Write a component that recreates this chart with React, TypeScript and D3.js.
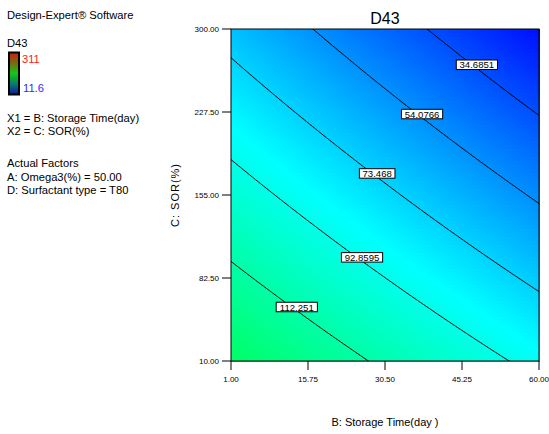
import React from "react";
import * as d3 from "d3";

// ---- data ----
const xDomain = [1, 60]; // B: Storage Time(day)
const yDomain = [10, 300]; // C: SOR(%)
const xTicks = [1, 15.75, 30.5, 45.25, 60];
const yTicks = [10, 82.5, 155, 227.5, 300];
const colorRange = [11.6, 311];
// fitted response surface D43 = b0 + bB*B + bC*C + bBC*B*C (estimated from contour positions)
const surfaceCoefficients = [134.1, -0.714, -0.2174, -0.000576];
const contourLevels = [34.6851, 54.0766, 73.468, 92.8595, 112.251];
const labelB = [48.1, 37.6, 29.0, 26.1, 13.6];
const legendLines = ["X1 = B: Storage Time(day)", "X2 = C: SOR(%)"];
const factorLines = ["Actual Factors", "A: Omega3(%) = 50.00", "D: Surfactant type = T80"];
const legendBarColors = ["#10189c", "#0a7a6a", "#10c818", "#7a6a10", "#c82010"];

const W = 549;
const H = 434;
const plot = { left: 231, right: 539, top: 29, bottom: 361 };
const FONT = "Arial, 'Liberation Sans', sans-serif";

const d43 = (B: number, C: number) => {
  const [b0, bB, bC, bBC] = surfaceCoefficients;
  return b0 + bB * B + bC * C + bBC * B * C;
};
const solveC = (B: number, level: number) => {
  const [b0, bB, bC, bBC] = surfaceCoefficients;
  return (level - b0 - bB * B) / (bC + bBC * B);
};

const colorScale = d3
  .scaleLinear<string>()
  .domain([0, 0.25, 0.5, 0.75, 1].map((t) => colorRange[0] + t * (colorRange[1] - colorRange[0])))
  .range(["#0000ff", "#00ffff", "#00ff00", "#ffff00", "#ff0000"])
  .clamp(true);

export default function App() {
  const x = d3.scaleLinear().domain(xDomain).range([plot.left, plot.right]);
  const y = d3.scaleLinear().domain(yDomain).range([plot.bottom, plot.top]);

  const cell = 4;
  const nx = Math.ceil((plot.right - plot.left) / cell);
  const ny = Math.ceil((plot.bottom - plot.top) / cell);
  const cells: JSX.Element[] = [];
  for (let i = 0; i < nx; i++) {
    for (let j = 0; j < ny; j++) {
      const px = plot.left + i * cell;
      const py = plot.top + j * cell;
      const B = x.invert(px + cell / 2);
      const C = y.invert(py + cell / 2);
      cells.push(
        <rect
          key={`${i}-${j}`}
          x={px}
          y={py}
          width={Math.min(cell, plot.right - px) + 0.5}
          height={Math.min(cell, plot.bottom - py) + 0.5}
          fill={colorScale(d43(B, C))}
        />
      );
    }
  }

  const line = d3
    .line<[number, number]>()
    .x((d) => x(d[0]))
    .y((d) => y(d[1]));
  const Bs = d3.range(0, 201).map((k) => xDomain[0] + (k / 200) * (xDomain[1] - xDomain[0]));

  return (
    <svg
      width={W}
      height={H}
      style={{ position: "absolute", left: 0, top: 0, background: "#fff" }}
      fontFamily={FONT}
    >
      <defs>
        <clipPath id="plotClip">
          <rect x={plot.left} y={plot.top} width={plot.right - plot.left} height={plot.bottom - plot.top} />
        </clipPath>
        <linearGradient id="legendGrad" x1="0" y1="1" x2="0" y2="0">
          {legendBarColors.map((c, k) => (
            <stop key={k} offset={k / (legendBarColors.length - 1)} stopColor={c} />
          ))}
        </linearGradient>
      </defs>

      {/* left legend */}
      <text x={7} y={18.5} fontSize={11.2}>Design-Expert® Software</text>
      <text x={7} y={47} fontSize={11.2}>D43</text>
      <rect x={9} y={52.5} width={10} height={42} fill="url(#legendGrad)" stroke="#000" strokeWidth={2} />
      <text x={22} y={63} fontSize={11.2} fill="#ff2020">{colorRange[1]}</text>
      <text x={23} y={92} fontSize={11.2} fill="#2a2aff">{colorRange[0]}</text>
      {legendLines.map((t, k) => (
        <text key={t} x={7} y={122 + k * 13} fontSize={11.2}>{t}</text>
      ))}
      {factorLines.map((t, k) => (
        <text key={t} x={7} y={167 + k * 13.5} fontSize={11.2}>{t}</text>
      ))}

      {/* title */}
      <text x={(plot.left + plot.right) / 2} y={24} fontSize={16} textAnchor="middle">D43</text>

      {/* surface */}
      <g shapeRendering="crispEdges">{cells}</g>

      {/* contours */}
      <g clipPath="url(#plotClip)">
        {contourLevels.map((lv) => {
          const pts = Bs.map((B) => [B, solveC(B, lv)] as [number, number]);
          return <path key={lv} d={line(pts) || ""} fill="none" stroke="#000" strokeWidth={1} />;
        })}
      </g>
      {contourLevels.map((lv, k) => {
        const B = labelB[k];
        const cx = x(B);
        const cy = y(solveC(B, lv)) - 4;
        const label = String(lv);
        const w = label.length * 5.6 + 2;
        return (
          <g key={`l${lv}`}>
            <rect x={cx - w / 2} y={cy - 4.5} width={w} height={9.5} fill="#fff" stroke="#000" strokeWidth={1} />
            <text x={cx} y={cy + 3.8} fontSize={9.6} textAnchor="middle">{label}</text>
          </g>
        );
      })}

      {/* frame */}
      <rect
        x={plot.left}
        y={plot.top}
        width={plot.right - plot.left}
        height={plot.bottom - plot.top}
        fill="none"
        stroke="#000"
        strokeWidth={1}
      />

      {/* x axis */}
      {xTicks.map((t) => (
        <g key={`x${t}`}>
          <line x1={x(t)} x2={x(t)} y1={plot.bottom} y2={plot.bottom + 9} stroke="#000" />
          <text x={x(t)} y={382} fontSize={8} textAnchor="middle">{t.toFixed(2)}</text>
        </g>
      ))}
      {/* y axis */}
      {yTicks.map((t) => (
        <g key={`y${t}`}>
          <line x1={plot.left - 9} x2={plot.left} y1={y(t)} y2={y(t)} stroke="#000" />
          <text x={219} y={y(t) + 3} fontSize={8} textAnchor="end">{t.toFixed(2)}</text>
        </g>
      ))}

      <text x={(plot.left + plot.right) / 2} y={426} fontSize={11} textAnchor="middle">B: Storage Time(day )</text>
      <text
        transform={`translate(179, ${(plot.top + plot.bottom) / 2}) rotate(-90)`}
        fontSize={11}
        textAnchor="middle"
        letterSpacing={1}
      >
        C: SOR(%)
      </text>
    </svg>
  );
}
